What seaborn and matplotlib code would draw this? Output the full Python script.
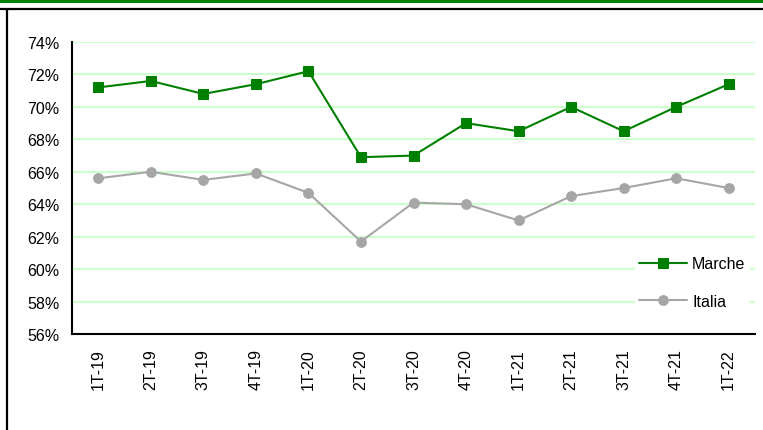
"""
Tasso di occupazione trimestrale: Marche vs Italia
"""

import pandas as pd
import seaborn as sns
import matplotlib.pyplot as plt
from matplotlib.lines import Line2D
from matplotlib.patches import Rectangle
from matplotlib.ticker import FixedLocator, PercentFormatter

quarters = ["1T-19", "2T-19", "3T-19", "4T-19", "1T-20", "2T-20", "3T-20",
            "4T-20", "1T-21", "2T-21", "3T-21", "4T-21", "1T-22"]
marche = [71.2, 71.6, 70.8, 71.4, 72.2, 66.9, 67.0, 69.0, 68.5, 70.0, 68.5, 70.0, 71.4]
italia = [65.6, 66.0, 65.5, 65.9, 64.7, 61.7, 64.1, 64.0, 63.0, 64.5, 65.0, 65.6, 65.0]

GREEN = "#008000"
GREY = "#A6A6A6"
FS = 11.5

sns.set_style("white")
plt.rcParams["font.family"] = ["Liberation Sans", "DejaVu Sans"]
plt.rcParams["text.color"] = "black"
plt.rcParams["xtick.color"] = "black"
plt.rcParams["ytick.color"] = "black"

df = pd.DataFrame({"pos": range(len(quarters)), "quarter": quarters,
                   "Marche": marche, "Italia": italia})

fig = plt.figure(figsize=(7.63, 4.31), dpi=100)
ax = fig.add_axes([0.0944, 0.2227, 0.8951, 0.6775])

# page decoration: green band on top and black frame
fig.patches.append(Rectangle((0, 1 - 4 / 431), 1, 4 / 431, transform=fig.transFigure,
                             facecolor=GREEN, edgecolor="none"))
fig.lines.append(Line2D([0, 1], [1 - 9.5 / 431] * 2, transform=fig.transFigure,
                        color="black", lw=1.6))
fig.lines.append(Line2D([6.5 / 763] * 2, [0, 1 - 9.5 / 431], transform=fig.transFigure,
                        color="black", lw=1.6))

sns.lineplot(data=df, x="pos", y="Marche", ax=ax, color=GREEN, lw=1.5,
             marker="s", markersize=7, markeredgecolor=GREEN, label="Marche")
sns.lineplot(data=df, x="pos", y="Italia", ax=ax, color=GREY, lw=1.5,
             marker="o", markersize=7, markeredgecolor=GREY, label="Italia")

ax.set_ylim(56, 74)
ax.set_yticks(range(56, 75, 2))
ax.yaxis.set_major_formatter(PercentFormatter(decimals=0))
ax.grid(axis="y", color="#CCFFCC", lw=1.5)
ax.set_axisbelow(True)

ax.set_xlim(-0.5, len(quarters) - 0.5)
ax.xaxis.set_major_locator(FixedLocator([i - 0.5 for i in range(len(quarters) + 1)]))
ax.xaxis.set_minor_locator(FixedLocator(list(df["pos"])))
ax.set_xticklabels([], minor=False)
ax.set_xticklabels(quarters, minor=True, rotation=90)
ax.tick_params(axis="x", which="major", direction="out", length=5, width=1.5, color="black")
ax.tick_params(axis="x", which="minor", length=0, pad=10, labelsize=FS, labelcolor="black")
ax.tick_params(axis="y", direction="out", length=5, width=1.5, color="black",
               labelsize=FS, labelcolor="black", pad=4)

for side in ["top", "right"]:
    ax.spines[side].set_visible(False)
for side in ["left", "bottom"]:
    ax.spines[side].set_color("black")
    ax.spines[side].set_linewidth(1.5)

ax.set_xlabel("")
ax.set_ylabel("")

leg = ax.legend(loc="upper left", bbox_to_anchor=(0.812, 0.31), frameon=True,
                fontsize=FS, handlelength=3.0, labelspacing=1.4, handletextpad=0.3,
                borderpad=0.3, fancybox=False)
leg.get_frame().set_edgecolor("none")
leg.get_frame().set_facecolor("white")
leg.get_frame().set_alpha(1)

fig.savefig("out.png", dpi=100, facecolor="white")
